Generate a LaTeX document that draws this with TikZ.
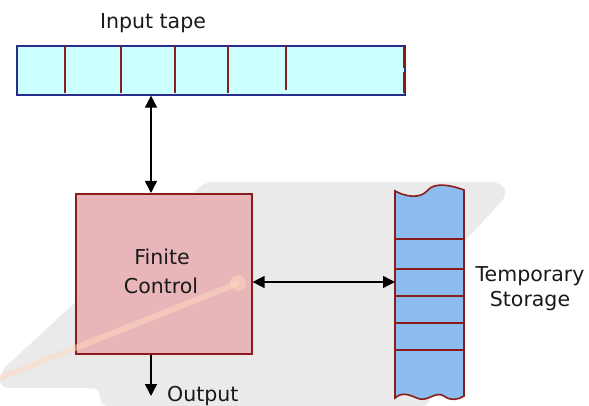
\documentclass[tikz,border=0pt]{standalone}
\usepackage{fontspec}
\setmainfont{DejaVu Sans}
\usetikzlibrary{arrows.meta}
\definecolor{tapefill}{HTML}{CCFFFF}
\definecolor{tapeedge}{HTML}{2B2B8C}
\definecolor{darkred}{HTML}{8B1C1C}
\definecolor{boxfill}{HTML}{E8B6B8}
\definecolor{stackfill}{HTML}{8CBDEE}
\definecolor{wmgray}{HTML}{EAEAEA}
\definecolor{wmpeach}{HTML}{FFD9BF}
\tikzset{
  lbl/.style={font=\fontsize{20.5}{24}\selectfont, text=black!90, inner sep=0pt, anchor=base},
  conn/.style={line width=1.5pt, {Triangle[width=12pt,length=12pt]}-{Triangle[width=12pt,length=12pt]}},
  outarrow/.style={line width=1.5pt, -{Triangle[width=12pt,length=12pt]}},
  divider/.style={draw=darkred, line width=1.6pt},
}
\begin{document}
\begin{tikzpicture}[x=1pt,y=-1pt]
\useasboundingbox (0,0) rectangle (589,406);
% faint watermark background
\fill[wmgray, rounded corners=8pt] (205,182) -- (500,182) -- (508,194) -- (425,285) -- (430,406) -- (100,406) -- (100,388) -- (0,388) -- (0,372) -- cycle;
% input tape
\node[lbl] (tapelabel) at (153,29) {Input tape};
\node[draw=tapeedge, fill=tapefill, line width=1.6pt, minimum width=388pt, minimum height=49pt, inner sep=0pt, anchor=north west] (tape) at (16,45) {};
\foreach \x in {65,121,175,228} \draw[divider] (\x,46) -- (\x,93);
\draw[divider] (286,46) -- (286,90);
\draw[darkred, line width=1.6pt] (404,46) -- (404,68) (404,72) -- (404,93);
% finite control
\node[draw=darkred, fill=boxfill, line width=1.6pt, minimum width=176pt, minimum height=160pt, inner sep=0pt, anchor=north west] (fc) at (75,193) {};
\node[lbl] (fc1) at (162,265) {Finite};
\node[lbl] (fc2) at (161,293) {Control};
% stack
\path[fill=stackfill, draw=darkred, line width=1.6pt]
  (395,191) .. controls (404,196) and (420,200) .. (428,190)
  .. controls (434,183) and (448,184) .. (464,190)
  -- (464,396)
  .. controls (458,400) and (450,401) .. (444,396)
  .. controls (436,391) and (428,401) .. (420,399)
  .. controls (412,397) and (404,390) .. (395,398)
  -- cycle;
\foreach \y in {239,269,296,323,350} \draw[divider] (395,\y) -- (464,\y);
\coordinate (stk) at (395,282);
\node[lbl] (ts1) at (530,281) {Temporary};
\node[lbl] (ts2) at (530,306) {Storage};
% peach watermark stroke
\draw[wmpeach, line width=6pt, opacity=0.5, line cap=round] (0,378) -- (236,284);
\fill[wmpeach, opacity=0.5] (238,283) circle (8pt);
% connectors
\draw[conn] (tape.south -| 151,0) -- (fc.north -| 151,0);
\draw[conn] (fc.east |- stk) -- (stk);
\coordinate (outend) at (151,396);
\draw[outarrow] (fc.south -| outend) -- (outend);
\node[lbl, anchor=base west] (outlbl) at (167,401) {Output};
\end{tikzpicture}
\end{document}
